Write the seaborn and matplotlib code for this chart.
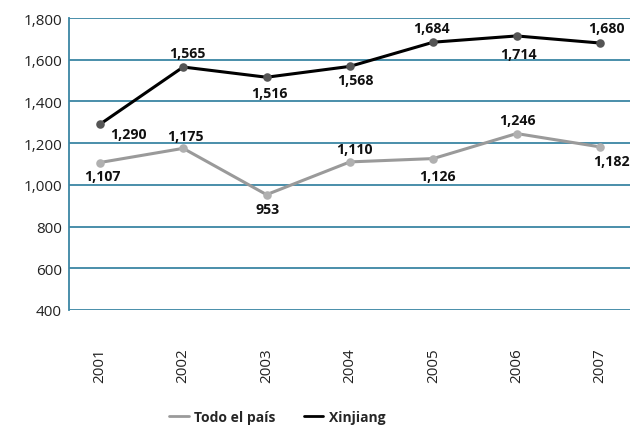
import matplotlib
matplotlib.use("Agg")
import matplotlib.pyplot as plt
import seaborn as sns
import pandas as pd
from matplotlib.lines import Line2D

years = ["2001", "2002", "2003", "2004", "2005", "2006", "2007"]
todo = [1107, 1175, 953, 1110, 1126, 1246, 1182]
xinjiang = [1290, 1565, 1516, 1568, 1684, 1714, 1680]
series_names = ["Todo el país", "Xinjiang"]
yticks = [400, 600, 800, 1000, 1200, 1400, 1600, 1800]

# label offsets in pixels (dx, dy)
off_x = [(29, -10), (4, 14), (3, -16), (5, -14), (-2, 14), (2, -18), (6, 15)]
off_t = [(3, -13), (2, 12), (1, -14), (4, 13), (4, -17), (1, 14), (11, -14)]

sns.set_theme(style="white")
plt.rcParams['font.family'] = ['Open Sans', 'DejaVu Sans']

df = pd.DataFrame({
    "x": list(range(len(years))) * 2,
    "value": todo + xinjiang,
    "serie": [series_names[0]] * len(years) + [series_names[1]] * len(years),
})

fig = plt.figure(figsize=(6.3, 4.27), dpi=100)
ax = fig.add_axes([0.1095, 0.2717, 0.8905, 0.6838])

grid_c = "#3a86a4"
for v in yticks:
    ax.axhline(v, color=grid_c, lw=1.3, zorder=0)

palette = {series_names[0]: "#9a9a9a", series_names[1]: "#000000"}
sns.lineplot(data=df, x="x", y="value", hue="serie", palette=palette,
             linewidth=2.2, legend=False, ax=ax, zorder=3)
ax.scatter(range(len(years)), todo, s=38, color="#b0b0b0", zorder=4, linewidths=0)
ax.scatter(range(len(years)), xinjiang, s=38, color="#555555", zorder=4, linewidths=0)

for i, v in enumerate(xinjiang):
    ax.annotate(f"{v:,}", (i, v), xytext=off_x[i], textcoords="offset pixels",
                ha="center", va="center", fontsize=10.2, fontweight="bold", color="#111111")
for i, v in enumerate(todo):
    ax.annotate(f"{v:,}", (i, v), xytext=off_t[i], textcoords="offset pixels",
                ha="center", va="center", fontsize=10.2, fontweight="bold", color="#111111")

ax.set_ylim(400, 1800)
ax.set_xlim(-0.37, 6.36)
ax.set_yticks(yticks)
ax.set_yticklabels([f"{v:,}" for v in yticks], fontsize=11, color="#222222")
ax.set_xticks(range(len(years)))
ax.set_xticklabels(years, rotation=90, fontsize=11, color="#222222")
ax.tick_params(axis="x", length=0, pad=27)
ax.tick_params(axis="y", length=0, pad=5)
ax.set_xlabel("")
ax.set_ylabel("")
for s in ["top", "right", "bottom"]:
    ax.spines[s].set_visible(False)
ax.spines["left"].set_color(grid_c)
ax.spines["left"].set_linewidth(1.3)

handles = [Line2D([0], [0], color="#9a9a9a", lw=2.0),
           Line2D([0], [0], color="#000000", lw=2.0)]
fig.legend(handles, series_names, loc="center", bbox_to_anchor=(0.44, 0.022),
           ncol=2, frameon=False, prop={"weight": "bold", "size": 10},
           handlelength=1.4, handletextpad=0.4, columnspacing=2.0)

fig.savefig("out.png", dpi=100)
